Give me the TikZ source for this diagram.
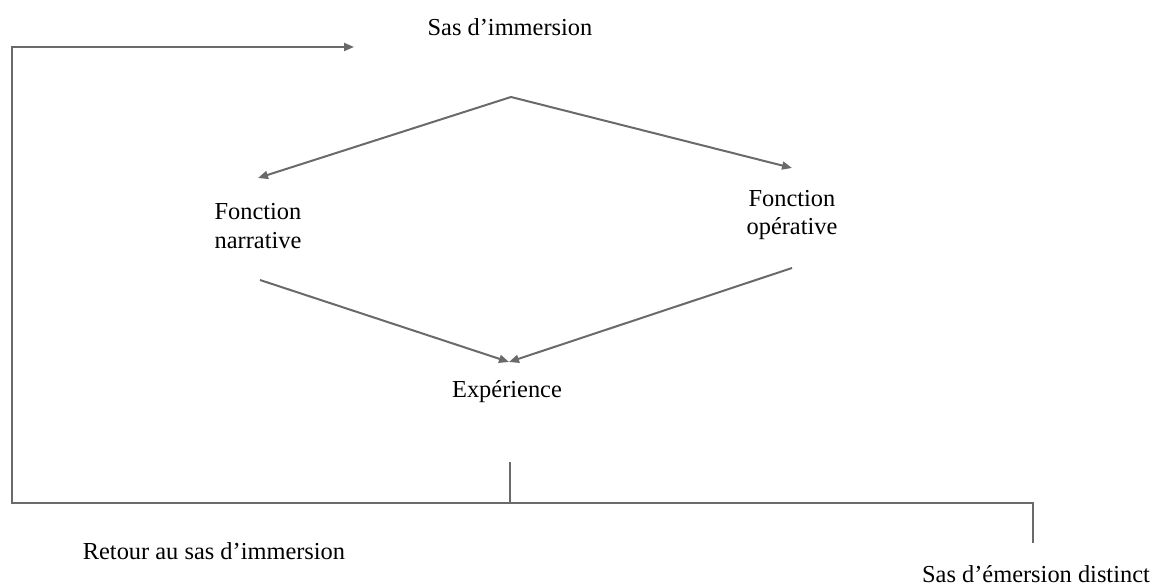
\documentclass[tikz,border=0pt]{standalone}
\usepackage{fontspec}
\setmainfont{Liberation Serif}
\usetikzlibrary{arrows.meta}
\definecolor{linegray}{HTML}{6A6A6A}
\tikzset{
  lbl/.style={inner sep=0pt, font=\fontsize{12.2}{14.2}\selectfont, text=black},
  conn/.style={draw=linegray, line width=1pt},
  arr/.style={conn, -{Triangle[length=5pt, width=4pt]}}
}
\begin{document}
\begin{tikzpicture}[x=0.5pt, y=-0.5pt]
\useasboundingbox (0,0) rectangle (1158,587);
% texts
\node[lbl] (sas) at (510,27) {Sas d’immersion};
\node[lbl, align=center] (narr) at (258,226) {Fonction\\narrative};
\node[lbl, align=center] (oper) at (792,215) {Fonction\\opérative};
\node[lbl] (exp) at (507,392) {Expérience};
\node[lbl] (ret) at (214,551) {Retour au sas d’immersion};
\node[lbl] (em) at (1036,574) {Sas d’émersion distinct};
% connector points
\coordinate (top) at (511,97);
\coordinate (narrIn) at (258,178);
\coordinate (operIn) at (792,168);
\coordinate (narrOut) at (260,280);
\coordinate (operOut) at (792,268);
\coordinate (expIn) at (509,362);
\coordinate (expOut) at (510,462);
\coordinate (split) at (510,503);
\coordinate (corner1) at (12,503);
\coordinate (corner2) at (12,47);
\coordinate (sasIn) at (354,47);
\coordinate (corner3) at (1033,503);
\coordinate (emIn) at (1033,543);
% connectors
\draw[arr] (top) -- (narrIn);
\draw[arr] (top) -- (operIn);
\draw[arr] (narrOut) -- (expIn);
\draw[arr] (operOut) -- (expIn);
\draw[arr] (expOut) -- (split) -- (corner1) -- (corner2) -- (sasIn);
\draw[conn] (split) -- (corner3) -- (emIn);
\end{tikzpicture}
\end{document}
